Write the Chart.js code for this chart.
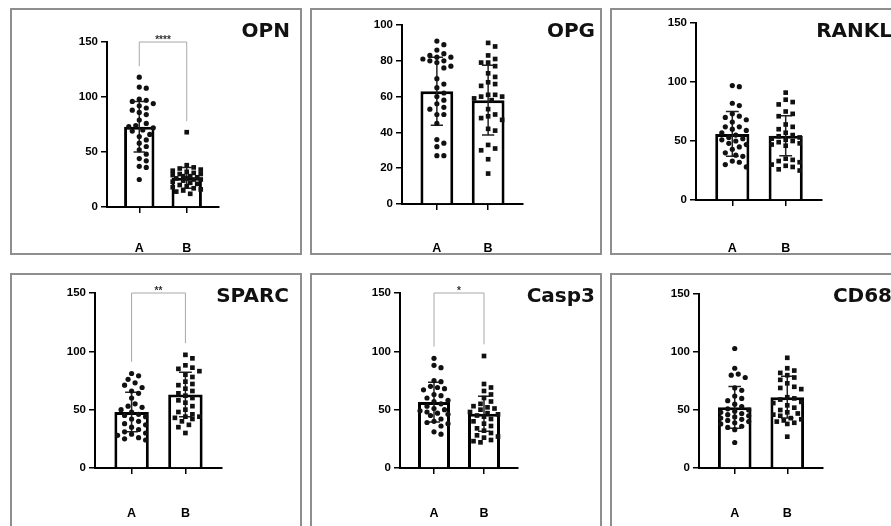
<!DOCTYPE html>
<html>
<head>
<meta charset="utf-8">
<script src="https://cdn.jsdelivr.net/npm/chart.js@4.4.1/dist/chart.umd.min.js"></script>
<style>
  html, body { margin: 0; padding: 0; background: #fff; width: 891px; height: 526px; overflow: hidden; }
  .panel { position: absolute; box-sizing: border-box; width: 292px; border: 2px solid #8e8e8e; background: #fff; }
  .panel canvas { display: block; }
</style>
</head>
<body>
<script>
// groups and panel labels
const GROUPS = ['A', 'B'];
const TITLES = ['OPN', 'OPG', 'RANKL', 'SPARC', 'Casp3', 'CD68'];
const Y_MAX = [150, 100, 150, 150, 150, 150];
const Y_STEP = [50, 20, 50, 50, 50, 50];
const SIG = ['****', '', '', '**', '*', ''];

// individual values
const OPN_A = [118, 109, 108, 98, 97, 96, 94, 92, 90, 88, 86, 84, 79, 76, 74, 73, 72, 70, 69, 66, 64, 61, 58, 55, 52, 48, 44, 42, 37, 36, 25];
const OPN_B = [68, 38, 36, 35, 34, 33, 32, 31, 30, 30, 29, 28, 28, 27, 26, 26, 25, 25, 24, 23, 22, 21, 20, 19, 18, 17, 16, 15, 14, 12];
const OPG_A = [91, 89, 86, 84, 83, 82, 82, 81, 80, 80, 79, 77, 76, 70, 67, 65, 62, 60, 58, 56, 54, 53, 50, 50, 45, 36, 34, 32, 27, 27];
const OPG_B = [90, 88, 83, 81, 79, 79, 77, 73, 71, 68, 67, 66, 61, 61, 60, 60, 59, 58, 53, 50, 49, 48, 47, 42, 41, 33, 31, 30, 25, 17];
const RANKL_A = [97, 96, 82, 80, 73, 71, 70, 68, 66, 62, 62, 60, 59, 57, 55, 53, 52, 51, 50, 48, 47, 45, 43, 40, 38, 37, 33, 32, 30, 28];
const RANKL_B = [91, 85, 83, 81, 75, 73, 71, 64, 62, 60, 57, 55, 54, 53, 52, 51, 50, 49, 48, 47, 46, 35, 34, 33, 32, 30, 29, 28, 26, 25];
const SPARC_A = [81, 79, 76, 73, 71, 69, 66, 64, 60, 55, 53, 52, 50, 48, 46, 45, 44, 42, 40, 38, 37, 35, 33, 31, 30, 29, 28, 26, 25, 24];
const SPARC_B = [97, 94, 88, 86, 85, 83, 80, 78, 74, 72, 71, 68, 66, 64, 62, 60, 58, 56, 53, 50, 48, 46, 44, 44, 43, 42, 40, 37, 35, 30];
const CASP3_A = [94, 88, 86, 75, 74, 70, 69, 68, 67, 63, 62, 60, 58, 57, 55, 53, 51, 50, 49, 48, 47, 46, 45, 42, 40, 39, 38, 36, 31, 29];
const CASP3_B = [96, 72, 69, 66, 63, 60, 57, 55, 53, 52, 51, 50, 48, 47, 46, 45, 44, 42, 40, 38, 36, 34, 32, 30, 28, 27, 26, 24, 23, 22];
const CD68_A = [103, 86, 81, 80, 78, 69, 67, 62, 60, 58, 55, 53, 51, 50, 49, 48, 47, 46, 45, 44, 43, 42, 41, 40, 39, 38, 36, 35, 33, 22];
const CD68_B = [95, 86, 84, 82, 80, 78, 76, 73, 70, 69, 68, 61, 60, 59, 57, 56, 54, 52, 50, 48, 47, 46, 45, 43, 42, 41, 40, 39, 38, 27];

// bar heights (mean) and error bars (SD)
const MEANS = [[73, 26.5], [63, 58], [56, 54.5], [48, 63], [56.5, 46.5], [52.3, 61]];
const SDS = [[23, 9.5], [19, 19.5], [19, 17], [17, 19], [17, 15], [18, 18]];

const SERIES = [[OPN_A, OPN_B], [OPG_A, OPG_B], [RANKL_A, RANKL_B],
                [SPARC_A, SPARC_B], [CASP3_A, CASP3_B], [CD68_A, CD68_B]];

// page layout
const PANEL_POS = [[10, 8], [310, 8], [610, 8], [10, 273], [310, 273], [610, 273]];
const PLOT_BOX = [[95, 207, 32, 197], [90, 211, 15, 194], [84, 210, 13, 190],
                  [83, 210, 18, 193], [88, 206, 18, 193], [87, 211, 19, 193]]; // left, right, top, bottom
const TITLE_RIGHT = [278, 283, 280, 277, 283, 280];
const X_MIN = -0.68, X_MAX = 1.68;
const LABEL_Y = 238;
const BOLD = '"Liberation Sans", Arial, sans-serif';

// beeswarm kept inside about the bar width; dots may overlap when crowded
function swarm(values, pxPerY, sepPx) {
  const D = 6.5, STEP = 3.5, HALF = 14;
  const cands = [0];
  for (let s = STEP; s <= HALF; s += STEP) cands.push(s, -s);
  const placed = [];
  const offs = new Array(values.length).fill(0);
  const idx = values.map((v, k) => k).sort((p, q) => values[q] - values[p]);
  idx.forEach(k => {
    const y = values[k] * pxPerY;
    let best = 0, bestGap = -1;
    for (const x of cands) {
      const gap = placed.reduce((m, p) => Math.min(m, Math.hypot(p.x - x, p.y - y)), Infinity);
      if (gap >= D) { best = x; bestGap = gap; break; }
      if (gap > bestGap + 0.01) { best = x; bestGap = gap; }
    }
    placed.push({ x: best, y });
    offs[k] = best / sepPx;
  });
  return offs;
}

const errorBars = {
  id: 'errorBars',
  afterDatasetDraw(chart, args, opts) {
    if (args.meta.type !== 'bar') return;
    const { ctx, scales: { x, y } } = chart;
    const capHalf = (x.getPixelForValue(1) - x.getPixelForValue(0)) * 0.12;
    ctx.save();
    ctx.strokeStyle = '#222';
    ctx.lineWidth = 1.5;
    opts.means.forEach((m, k) => {
      const cx = x.getPixelForValue(k);
      const top = y.getPixelForValue(m + opts.sds[k]);
      const bot = y.getPixelForValue(m - opts.sds[k]);
      ctx.beginPath();
      ctx.moveTo(cx, top); ctx.lineTo(cx, bot);
      ctx.moveTo(cx - capHalf, top); ctx.lineTo(cx + capHalf, top);
      ctx.moveTo(cx - capHalf, bot); ctx.lineTo(cx + capHalf, bot);
      ctx.stroke();
    });
    ctx.restore();
  }
};

const panelText = {
  id: 'panelText',
  afterDraw(chart, args, opts) {
    const { ctx, scales: { x, y } } = chart;
    ctx.save();
    if (opts.sig) {
      const x0 = x.getPixelForValue(0), x1 = x.getPixelForValue(1);
      const yTop = y.getPixelForValue(y.max);
      const yA = y.getPixelForValue(Math.max(...opts.groups[0]) + 10);
      const yB = y.getPixelForValue(Math.max(...opts.groups[1]) + 10);
      ctx.strokeStyle = '#a8a8a8';
      ctx.lineWidth = 1;
      ctx.beginPath();
      ctx.moveTo(x0, yA); ctx.lineTo(x0, yTop); ctx.lineTo(x1, yTop); ctx.lineTo(x1, yB);
      ctx.stroke();
      ctx.fillStyle = '#333';
      ctx.font = 'bold 10px ' + BOLD;
      ctx.textAlign = 'center';
      ctx.textBaseline = 'alphabetic';
      ctx.fillText(opts.sig, (x0 + x1) / 2, yTop + 1);
    }
    ctx.fillStyle = '#111';
    ctx.font = 'bold 20px "DejaVu Sans", Verdana, sans-serif';
    ctx.textAlign = 'right';
    ctx.textBaseline = 'middle';
    ctx.fillText(opts.title, opts.titleRight, 22);
    ctx.restore();
  }
};

function makePanel(i) {
  const [px, py] = PANEL_POS[i];
  const outerH = i < 3 ? 247 : 262;
  const W = 288, H = outerH - 4;
  const div = document.createElement('div');
  div.className = 'panel';
  div.style.left = px + 'px';
  div.style.top = py + 'px';
  div.style.height = outerH + 'px';
  const cv = document.createElement('canvas');
  cv.width = W; cv.height = H;
  cv.style.width = W + 'px'; cv.style.height = H + 'px';
  div.appendChild(cv);
  document.body.appendChild(div);

  const [L, R, T, B] = PLOT_BOX[i];
  const yMax = Y_MAX[i];
  const [ga, gb] = SERIES[i];
  const sepPx = (R - L) / (X_MAX - X_MIN);
  const pxPerY = (B - T) / yMax;
  const offA = swarm(ga, pxPerY, sepPx);
  const offB = swarm(gb, pxPerY, sepPx);

  const axisBorder = { display: true, color: '#000', width: 2 };
  const axisGrid = { display: true, offset: false, drawOnChartArea: false, drawTicks: true, tickLength: 6, color: '#000', lineWidth: 1.5 };

  new Chart(cv, {
    type: 'bar',
    data: {
      datasets: [
        {
          type: 'scatter', order: 0,
          data: ga.map((v, k) => ({ x: 0 + offA[k], y: v })),
          pointStyle: 'circle', pointRadius: 2.6, pointHoverRadius: 2.6,
          pointBackgroundColor: '#111', pointBorderWidth: 0
        },
        {
          type: 'scatter', order: 0,
          data: gb.map((v, k) => ({ x: 1 + offB[k], y: v })),
          pointStyle: 'rect', pointRadius: 3.3, pointHoverRadius: 3.3,
          pointBackgroundColor: '#111', pointBorderWidth: 0
        },
        {
          type: 'bar', order: 1,
          data: MEANS[i].map((m, k) => ({ x: k, y: m })),
          backgroundColor: '#fff', borderColor: '#000', borderWidth: 3,
          barPercentage: 0.64, categoryPercentage: 1
        }
      ]
    },
    options: {
      responsive: false,
      animation: false,
      events: [],
      layout: { padding: { left: 0, top: T, right: W - R, bottom: 0 } },
      plugins: {
        legend: { display: false },
        tooltip: { enabled: false },
        errorBars: { means: MEANS[i], sds: SDS[i] },
        panelText: { title: TITLES[i], titleRight: TITLE_RIGHT[i], sig: SIG[i], groups: SERIES[i] }
      },
      scales: {
        x: {
          type: 'linear', min: X_MIN, max: X_MAX, offset: false,
          afterBuildTicks: s => { s.ticks = GROUPS.map((g, k) => ({ value: k })); },
          afterFit: s => { s.height = H - B; },
          ticks: {
            callback: v => GROUPS[v],
            autoSkip: false, maxRotation: 0,
            color: '#000', padding: LABEL_Y - B - 13,
            font: { family: BOLD, size: 12.5, weight: 'bold' }
          },
          grid: axisGrid, border: axisBorder
        },
        y: {
          type: 'linear', min: 0, max: yMax,
          afterFit: s => { s.width = L; },
          ticks: {
            stepSize: Y_STEP[i], color: '#000', padding: 3,
            font: { family: BOLD, size: 11.5, weight: 'bold' }
          },
          grid: axisGrid, border: axisBorder
        }
      }
    },
    plugins: [errorBars, panelText]
  });
}

TITLES.forEach((t, i) => makePanel(i));
</script>
</body>
</html>
